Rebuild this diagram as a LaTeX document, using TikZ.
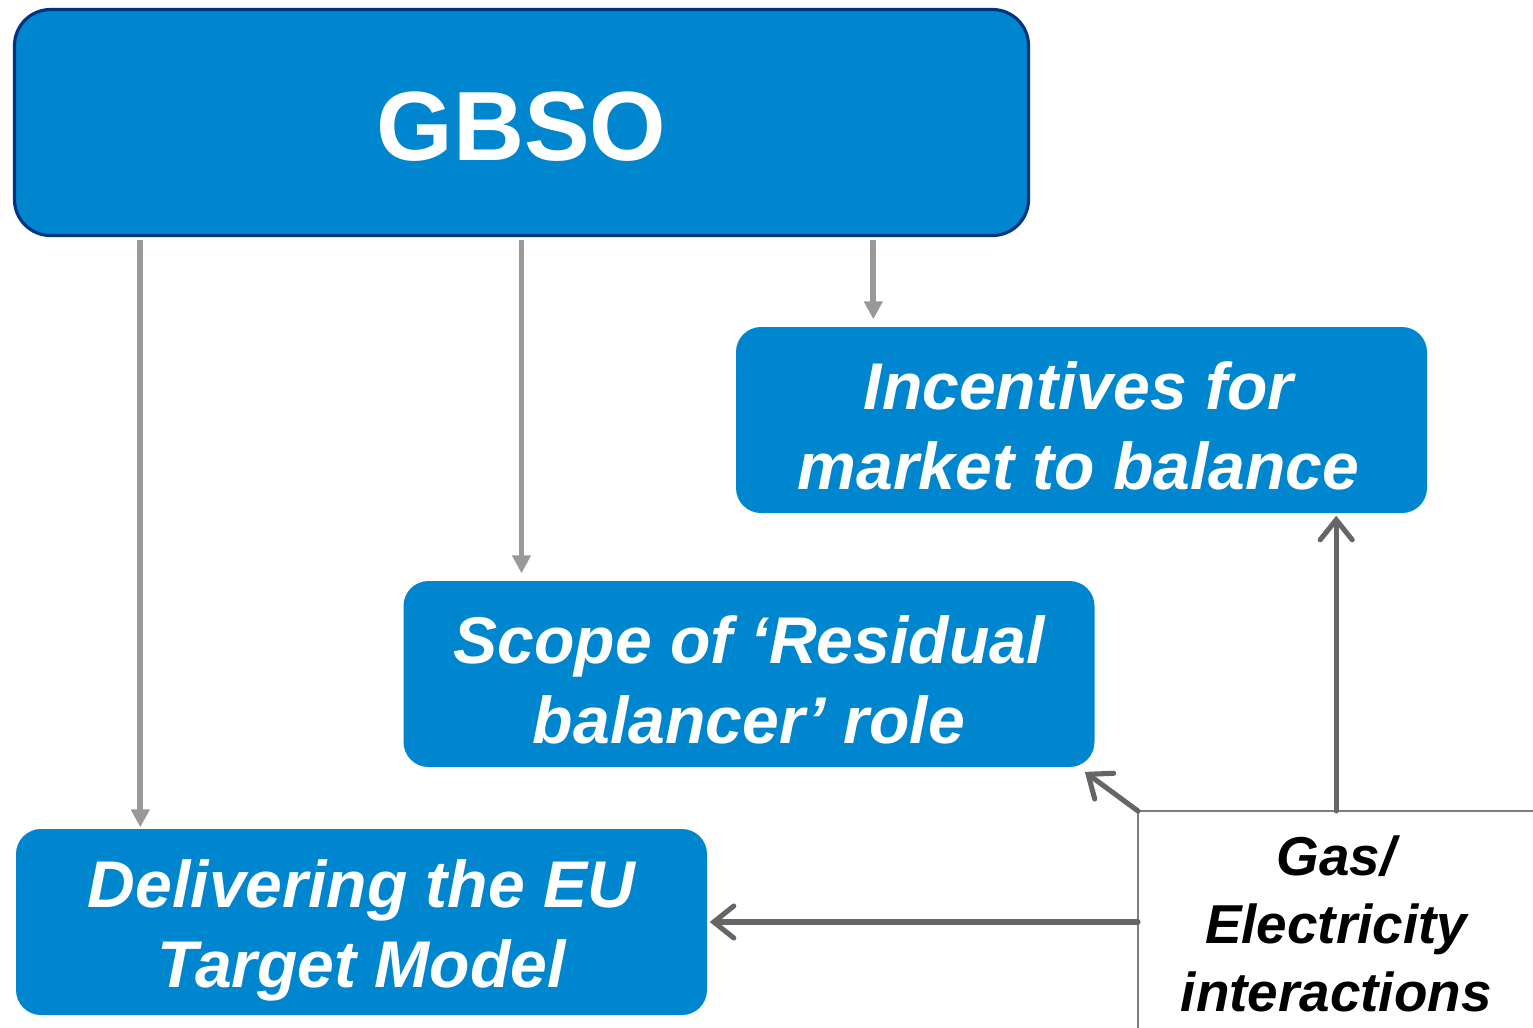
\documentclass[tikz,border=0pt]{standalone}
\usepackage{fontspec}
\setmainfont{Liberation Sans}
\usetikzlibrary{arrows.meta,calc}

\definecolor{boxblue}{RGB}{0,134,206}
\definecolor{boxline}{RGB}{0,51,128}
\definecolor{lightarrow}{RGB}{153,153,153}
\definecolor{darkarrow}{RGB}{102,102,102}

\begin{document}
\begin{tikzpicture}[
	box/.style={fill=boxblue, rounded corners=0.25cm, minimum width=6.91cm, minimum height=1.86cm, inner sep=0pt},
	boxtext/.style={text=white, align=center, font=\fontsize{18.8}{22.8}\selectfont\bfseries\itshape},
	down/.style={lightarrow, line width=1.7pt, -{Triangle[length=0.18cm,width=0.18cm]}, shorten <=0.03cm, shorten >=0.07cm},
	side/.style={darkarrow, line width=1.45pt, line cap=round, -{Straight Barb[length=0.2cm,width=0.32cm,line cap=round]}, shorten >=0.02cm}
	]
	\useasboundingbox (0,0) rectangle (15.33,-10.27);

	\node[box, draw=boxline, line width=0.9pt, rounded corners=0.36cm, minimum width=10.14cm, minimum height=2.26cm] (gbso) at (5.215,-1.225) {};
	\node[box] (inc) at (10.815,-4.20) {};
	\node[box] (scope) at (7.49,-6.74) {};
	\node[box] (del) at (3.615,-9.22) {};

	% the texts sit a little below the box centres
	\node[boxtext, font=\fontsize{28}{34}\selectfont\bfseries] (gbsotext) at ([yshift=-0.04cm]gbso.center) {GBSO};
	\node[boxtext] (inctext) at ([xshift=-0.03cm, yshift=-0.06cm]inc.center) {Incentives for\\market to balance};
	\node[boxtext] (scopetext) at ([yshift=-0.06cm]scope.center) {Scope of `Residual\\balancer' role};
	\node[boxtext] (deltext) at ([yshift=-0.08cm]del.center) {Delivering the EU\\Target Model};

	\node[font=\fontsize{15.6}{19.4}\selectfont\bfseries\itshape, align=center, inner sep=0pt,
		minimum width=3.95cm, minimum height=2.24cm, anchor=north west] (gas) at (11.38,-8.11) {Gas/\\Electricity\\interactions};
	\draw[darkarrow!85, line width=0.8pt] (gas.south west) -- (gas.north west) -- (gas.north east);

	% arrows down from the GBSO
	\coordinate (p1) at ($(del.north west)+(1.25,0)$);
	\coordinate (p3) at ($(inc.north west)+(1.38,0)$);
	\draw[down, shorten >=0.01cm] (p1 |- gbso.south) -- (p1);
	\draw[down] (gbso.south) -- (gbso.south |- scope.north);
	\draw[down] (p3 |- gbso.south) -- (p3);

	% arrows out of the gas/electricity box
	\draw[side] (gas.north) -- (gas.north |- inc.south);
	\draw[side] (gas.north west) -- ($(scope.south east)+(-0.12,-0.03)$);
	\draw[side] (gas.west |- del.east) -- (del.east);
\end{tikzpicture}
\end{document}
